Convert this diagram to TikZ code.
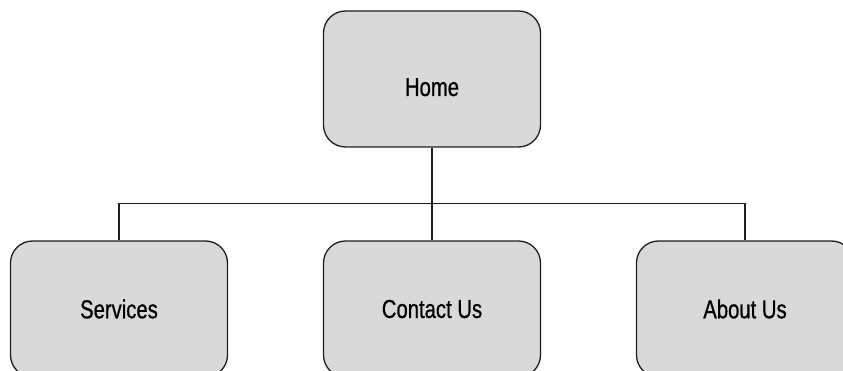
\documentclass[tikz,border=0pt]{standalone}
\usepackage{fontspec}
\setmainfont{Liberation Sans}
\newfontfamily\narrowsans[FakeStretch=0.78,FakeBold=0.7]{Liberation Sans}
\usepackage{xcolor}
\usetikzlibrary{positioning}
\definecolor{colorBox}{HTML}{D9D9D9}
\definecolor{colorLine}{HTML}{1E1E1E}

\begin{document}
\begin{tikzpicture}[x=1pt,y=-1pt,
        page/.style={draw=colorLine,fill=colorBox,line width=1.3pt,rounded corners=22pt,
            minimum width=217pt,minimum height=136pt,inner sep=0pt,
            font=\narrowsans\fontsize{26}{30}\selectfont},
        link/.style={draw=colorLine,line width=1.3pt}]
        \useasboundingbox (0,0) rectangle (843,371);
        \clip (0,0) rectangle (843,371);
        \node[page,text height=34pt,text depth=0pt] (home) at (432,79) {Home};
        \node[page] (contact) at (432,309) {Contact Us};
        \node[page] (services) at (119,309) {Services};
        \node[page] (about) at (745,309) {About Us};
        \draw[link] (home) -- (contact);
        \draw[link] (services.north) -- ++(0,-37) -| (about.north);
    \end{tikzpicture}
\end{document}
